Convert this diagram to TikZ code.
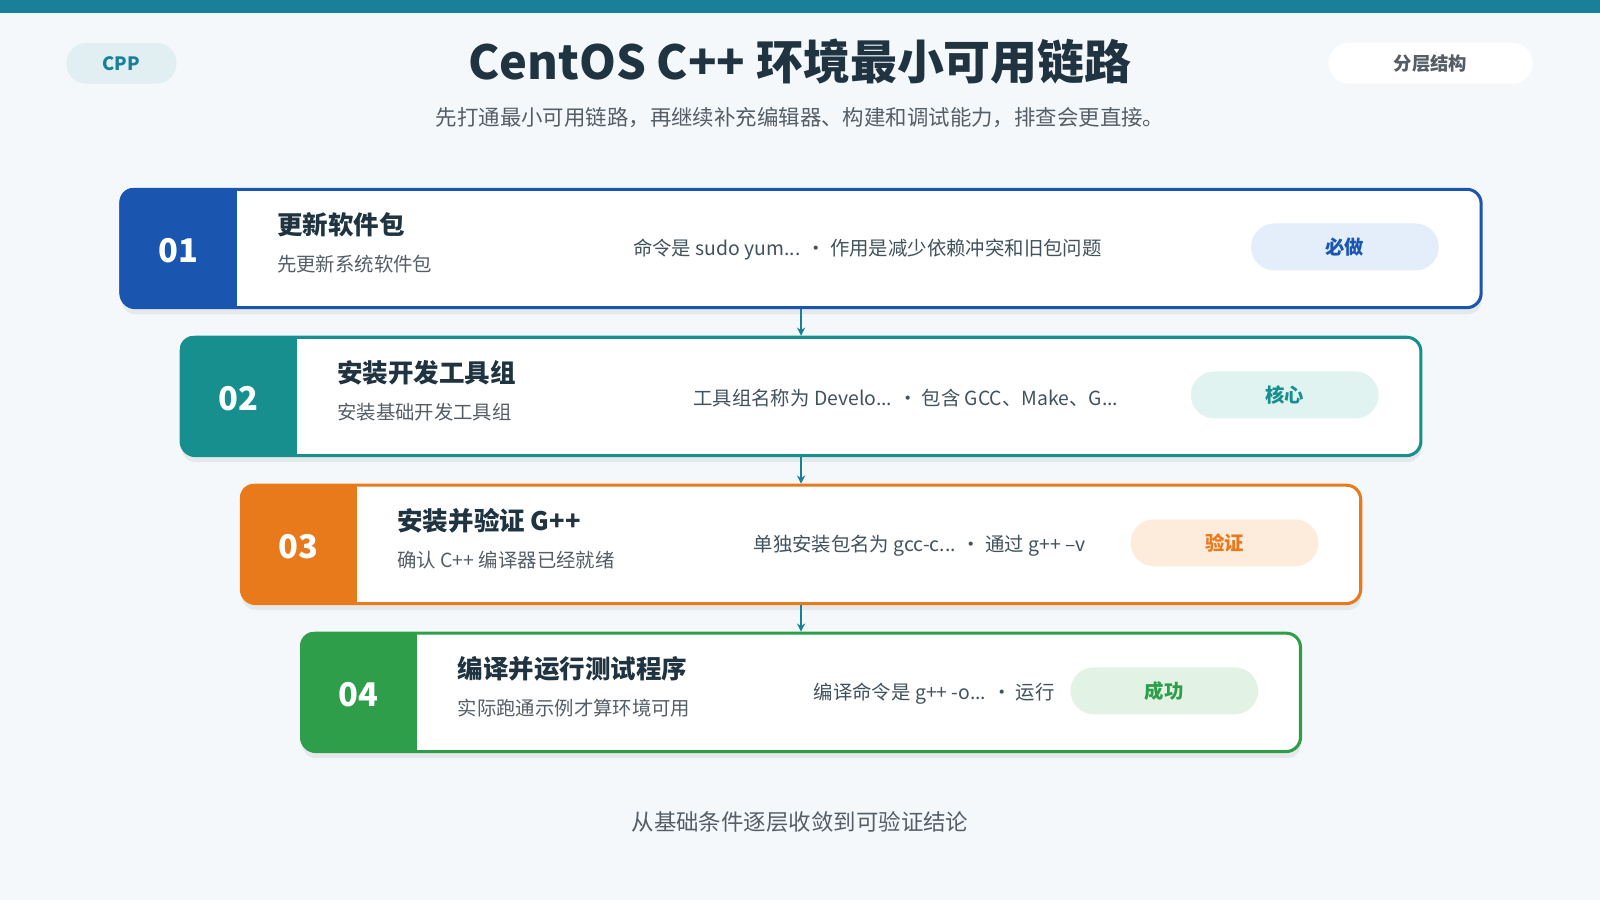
\documentclass[tikz,border=0pt]{standalone}
\usepackage{fontspec}
\setmainfont{Noto Sans CJK SC}
\usetikzlibrary{arrows.meta}
\definecolor{bg}{HTML}{F5F8FB}
\definecolor{teal}{HTML}{1A7F99}
\definecolor{ink}{HTML}{1F3340}
\definecolor{gry}{HTML}{555E66}
\definecolor{cA}{HTML}{1A56B0}\definecolor{lA}{HTML}{E3EEFA}
\definecolor{cB}{HTML}{178F8F}\definecolor{lB}{HTML}{E0F3F0}
\definecolor{cC}{HTML}{E87A1C}\definecolor{lC}{HTML}{FDEBDC}
\definecolor{cD}{HTML}{2E9E4A}\definecolor{lD}{HTML}{E2F3E5}
\newcommand{\fs}[1]{\fontsize{#1}{#1}\selectfont}
\tikzset{
 ttl/.style={font=\fs{25}\bfseries, text=ink, anchor=west},
 sub/.style={font=\fs{19}, text=gry, anchor=west},
 det/.style={font=\fs{19}, text=ink!85, anchor=west},
 num/.style={font=\fs{32}\bfseries, text=white},
 badge/.style={rounded corners=23pt, minimum width=184pt, minimum height=46pt, font=\fs{19}\bfseries},
 conn/.style={draw=teal, line width=2pt, -{Stealth[length=8pt,width=8pt]}},
}
% #1 name #2 left #3 top #4 right #5 color #6 number #7 title #8 subtitle
\newcommand{\mystep}[8]{
 \fill[black,opacity=0.06,rounded corners=14pt] (#2+2,#3+8) rectangle (#4+2,#3+124);
 \fill[white,rounded corners=14pt] (#2,#3) rectangle (#4,#3+116);
 \begin{scope}
  \clip[rounded corners=14pt] (#2,#3) rectangle (#4,#3+116);
  \fill[#5] (#2,#3) rectangle (#2+115,#3+116);
 \end{scope}
 \node[draw=#5,line width=3pt,rounded corners=14pt,minimum width=#4pt-#2pt,minimum height=116pt,anchor=north west,inner sep=0pt] (#1) at (#2,#3) {};
 \node[num] (#1n) at (#2+57.5,#3+62) {#6};
 \node[ttl] (#1t) at (#2+151,#3+36) {#7};
 \node[sub] (#1s) at (#2+151,#3+75) {#8};
}
\begin{document}
\begin{tikzpicture}[x=1pt,y=-1pt]
\useasboundingbox (0,0) rectangle (1568,882);
\fill[bg] (0,0) rectangle (1568,882);
\fill[teal] (0,0) rectangle (1568,13);
\node[fill=teal!13,text=teal,rounded corners=20pt,minimum width=108pt,minimum height=40pt,font=\fs{18}\bfseries] (cpp) at (119,62) {CPP};
\node[fill=white,text=gry,rounded corners=20pt,minimum width=200pt,minimum height=40pt,font=\fs{18}\bfseries] (tag) at (1402,62) {分层结构};
\node[font=\fs{46}\bfseries,text=ink] (title) at (784,60) {CentOS C++ 环境最小可用链路};
\node[font=\fs{21},text=gry] (subt) at (784,115) {先打通最小可用链路，再继续补充编辑器、构建和调试能力，排查会更直接。};

\mystep{s1}{117}{184}{1450}{cA}{01}{更新软件包}{先更新系统软件包}
\mystep{s2}{176}{329}{1391}{cB}{02}{安装开发工具组}{安装基础开发工具组}
\mystep{s3}{235}{474}{1332}{cC}{03}{安装并验证 G++}{确认 C++ 编译器已经就绪}
\mystep{s4}{294}{619}{1273}{cD}{04}{编译并运行测试程序}{实际跑通示例才算环境可用}

\node[det] (d1) at (617,245) {命令是 sudo yum... · 作用是减少依赖冲突和旧包问题};
\node[det] (d2) at (676,390) {工具组名称为 Develo... · 包含 GCC、Make、G...};
\node[det] (d3) at (735,535) {单独安装包名为 gcc-c... · 通过 g++ --v};
\node[det] (d4) at (794,680) {编译命令是 g++ -o... · 运行};

\node[badge,fill=lA,text=cA] (b1) at (1318,242) {必做};
\node[badge,fill=lB,text=cB] (b2) at (1259,387) {核心};
\node[badge,fill=lC,text=cC] (b3) at (1200,532) {验证};
\node[badge,fill=lD,text=cD] (b4) at (1141,677) {成功};

\draw[conn] (s1.south) -- (s2.north);
\draw[conn] (s2.south) -- (s3.north);
\draw[conn] (s3.south) -- (s4.north);

\node[font=\fs{22},text=gry] (foot) at (784,806) {从基础条件逐层收敛到可验证结论};
\end{tikzpicture}
\end{document}
